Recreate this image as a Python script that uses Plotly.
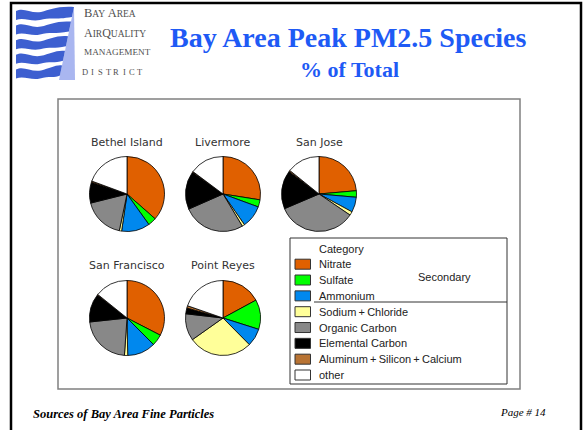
import plotly.graph_objects as go

W, H = 587, 430

# ---------------- data ----------------
categories = ["Nitrate", "Sulfate", "Ammonium", "Sodium\u2009+\u2009Chloride", "Organic Carbon",
              "Elemental Carbon", "Aluminum\u2009+\u2009Silicon\u2009+\u2009Calcium", "other"]
colors = ["#e06000", "#00ff00", "#0088ee", "#ffff99", "#888888", "#000000", "#b87333", "#ffffff"]

sites = ["Bethel Island", "Livermore", "San Jose", "San Francisco", "Point Reyes"]
bethel_island = [36.5, 3.6, 12.2, 1.0, 17.8, 9.0, 0.5, 19.4]
livermore = [27.5, 3.1, 9.7, 1.1, 27.0, 16.5, 0.3, 14.8]
san_jose = [23.6, 2.8, 6.5, 1.6, 34.1, 16.7, 0.5, 14.2]
san_francisco = [32.6, 4.9, 12.2, 1.4, 22.2, 12.2, 0.3, 14.2]
point_reyes = [17.1, 12.8, 7.7, 27.6, 11.6, 2.5, 1.0, 19.7]
site_values = [bethel_island, livermore, san_jose, san_francisco, point_reyes]

# pie layout (pixel centres, radius)
centers = [(127, 194), (223, 194), (319, 194), (127, 318), (223, 318)]
radius = 37.5


def X(px):
    return px / W


def Y(py):
    return 1 - py / H


fig = go.Figure()

for name, vals, (cx, cy) in zip(sites, site_values, centers):
    fig.add_trace(go.Pie(
        labels=categories, values=vals, sort=False, direction="clockwise", rotation=0,
        marker=dict(colors=colors, line=dict(color="#000000", width=0.8)),
        textinfo="none", showlegend=False, name=name,
        domain=dict(x=[X(cx - radius), X(cx + radius)], y=[Y(cy + radius), Y(cy - radius)]),
    ))

annotations = []
shapes = []

# pie titles
for name, (cx, cy) in zip(sites, centers):
    ty = cy - 52 if cy < 250 else cy - 53
    annotations.append(dict(x=X(cx), y=Y(ty), xref="paper", yref="paper", text=name,
                            showarrow=False, xanchor="center", yanchor="middle",
                            font=dict(family="DejaVu Sans", size=11, color="#333333")))

# outer frame
shapes.append(dict(type="path", xref="paper", yref="paper",
                   path=f"M {X(11)},{Y(431)} L {X(11)},{Y(3)} L {X(581)},{Y(3)} L {X(581)},{Y(431)}",
                   line=dict(color="#000000", width=2.5)))
# inner frame
shapes.append(dict(type="rect", xref="paper", yref="paper", x0=X(58), x1=X(520), y0=Y(389), y1=Y(99),
                   line=dict(color="#808080", width=1.5)))

# legend box
shapes.append(dict(type="rect", xref="paper", yref="paper", x0=X(290), x1=X(507), y0=Y(384), y1=Y(238),
                   line=dict(color="#333333", width=1)))
shapes.append(dict(type="line", xref="paper", yref="paper", x0=X(314), x1=X(507), y0=Y(302), y1=Y(302),
                   line=dict(color="#333333", width=1)))
annotations.append(dict(x=X(317), y=Y(249), xref="paper", yref="paper", text="Category",
                        showarrow=False, xanchor="left", yanchor="middle",
                        font=dict(family="Liberation Sans", size=11, color="#222222")))
annotations.append(dict(x=X(444), y=Y(277), xref="paper", yref="paper", text="Secondary",
                        showarrow=False, xanchor="center", yanchor="middle",
                        font=dict(family="Liberation Sans", size=11, color="#222222")))
row0, step = 264.2, 15.83
for i, (cat, col) in enumerate(zip(categories, colors)):
    ry = row0 + i * step
    shapes.append(dict(type="rect", xref="paper", yref="paper", x0=X(295), x1=X(310.5),
                       y0=Y(ry + 5), y1=Y(ry - 5), fillcolor=col, line=dict(color="#333333", width=1)))
    annotations.append(dict(x=X(317), y=Y(ry), xref="paper", yref="paper", text=cat,
                            showarrow=False, xanchor="left", yanchor="middle",
                            font=dict(family="Liberation Sans", size=11, color="#222222")))

# logo: light triangle
shapes.append(dict(type="path", xref="paper", yref="paper",
                   path=f"M {X(74)},{Y(7)} L {X(75)},{Y(80)} L {X(59)},{Y(80)} Z",
                   fillcolor="#a9b6f0", line=dict(width=0)))


def diag(py):
    # x on the diagonal edge of the triangle
    return 74 + (59 - 74) * (py - 7) / (80 - 7)


for k in range(5):
    t = 8 + k * 14.6
    p = (f"M {X(16)},{Y(t + 3)} "
         f"C {X(24)},{Y(t - 1)} {X(31)},{Y(t + 6)} {X(41)},{Y(t + 4)} "
         f"C {X(50)},{Y(t + 2)} {X(56)},{Y(t - 2)} {X(diag(t - 1))},{Y(t - 1)} "
         f"L {X(diag(t + 9))},{Y(t + 9)} "
         f"C {X(55)},{Y(t + 12)} {X(49)},{Y(t + 9)} {X(40)},{Y(t + 12)} "
         f"C {X(31)},{Y(t + 14)} {X(24)},{Y(t + 9)} {X(16)},{Y(t + 12)} Z")
    shapes.append(dict(type="path", xref="paper", yref="paper", path=p,
                       fillcolor="#3d5fd0", line=dict(width=0)))

sc = "font-size:9.5px"
logo_lines = [
    (f"B<span style='{sc}'>AY</span> A<span style='{sc}'>REA</span>", 13, 12.5),
    (f"A<span style='{sc}'>IR</span>Q<span style='{sc}'>UALITY</span>", 33, 12),
    ("MANAGEMENT", 52, 9.2),
]
for txt, ly, fs in logo_lines:
    annotations.append(dict(x=X(82), y=Y(ly), xref="paper", yref="paper", text=txt,
                            showarrow=False, xanchor="left", yanchor="middle",
                            font=dict(family="Liberation Serif", size=fs, color="#505050")))
district = "DISTRICT"
for j, ch in enumerate(district):
    annotations.append(dict(x=X(85 + j * (140 - 85) / (len(district) - 1)), y=Y(72),
                            xref="paper", yref="paper", text=ch, showarrow=False,
                            xanchor="center", yanchor="middle",
                            font=dict(family="Liberation Serif", size=8.5, color="#505050")))

# titles
annotations.append(dict(x=X(348), y=Y(38), xref="paper", yref="paper",
                        text="<b>Bay Area Peak PM2.5 Species</b>", showarrow=False,
                        xanchor="center", yanchor="middle",
                        font=dict(family="Liberation Serif", size=28, color="#1e5af5")))
annotations.append(dict(x=X(349), y=Y(69), xref="paper", yref="paper",
                        text="<b>% of Total</b>", showarrow=False,
                        xanchor="center", yanchor="middle",
                        font=dict(family="Liberation Serif", size=22, color="#1e5af5")))

# footer
annotations.append(dict(x=X(31), y=Y(414), xref="paper", yref="paper",
                        text="<b><i>Sources of Bay Area Fine Particles</i></b>", showarrow=False,
                        xanchor="left", yanchor="middle",
                        font=dict(family="Liberation Serif", size=12.5, color="#000000")))
annotations.append(dict(x=X(548), y=Y(412), xref="paper", yref="paper",
                        text="<i>Page # 14</i>", showarrow=False,
                        xanchor="right", yanchor="middle",
                        font=dict(family="Liberation Serif", size=11, color="#000000")))

fig.update_layout(
    width=W, height=H, margin=dict(l=0, r=0, t=0, b=0),
    paper_bgcolor="#ffffff", plot_bgcolor="#ffffff",
    shapes=shapes, annotations=annotations,
)

fig.write_html("out.html", config={"displayModeBar": False},
               post_script="document.body.style.margin='0';document.body.style.overflow='hidden';")
